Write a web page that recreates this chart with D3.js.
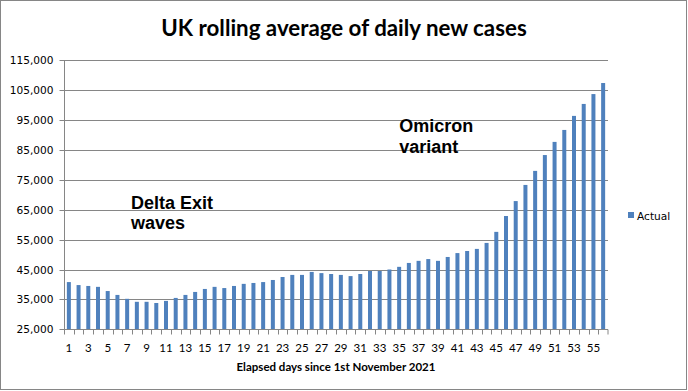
<!DOCTYPE html>
<html><head><meta charset="utf-8">
<script src="https://cdn.jsdelivr.net/npm/d3@7/dist/d3.min.js"></script>
<style>body{margin:0;background:#fff}svg{display:block}</style>
</head><body><svg id="c" width="688" height="391"></svg>
<script>
const days = d3.range(1, 57);
const actual = [40800,39800,39500,39200,37800,36500,35200,34200,34200,33800,34500,35500,36500,37500,38500,39200,38800,39500,
40200,40500,40800,41500,42500,43200,43200,44200,43800,43500,43200,42800,43500,44500,44500,45000,45900,47200,47900,48500,
47900,49200,50500,51200,51900,53900,57600,62900,67900,73300,78000,83300,87700,91700,96400,100400,103700,107400];
const yTicks = [25000,35000,45000,55000,65000,75000,85000,95000,105000,115000];
const xTickLabels = days.filter(d => d % 2 === 1);
const titleText = "UK rolling average of daily new cases";
const xTitle = "Elapsed days since 1st November 2021";
const seriesName = "Actual";
const notes = [{lines:["Delta Exit","waves"], day:7.9, value:65300},{lines:["Omicron","variant"], day:35.5, value:91000}];

const svg = d3.select("#c");
const m = {l:64, r:608, t:60.3, b:329.3};
svg.append("rect").attr("x",0.5).attr("y",0.5).attr("width",686).attr("height",389)
  .attr("fill","#fff").attr("stroke","#868686");

const xb = d3.scaleBand().domain(days).range([m.l, m.r]);
const y = d3.scaleLinear().domain([25000,115000]).range([m.b, m.t]);

// gridlines
svg.append("g").selectAll("line").data(yTicks.slice(1)).join("line")
  .attr("x1", m.l).attr("x2", m.r)
  .attr("y1", d => Math.round(y(d))+0.5).attr("y2", d => Math.round(y(d))+0.5)
  .attr("stroke","#868686");

// bars
svg.append("g").selectAll("rect").data(actual).join("rect")
  .attr("x", (d,i) => xb(days[i]) + xb.bandwidth()/2 - 2)
  .attr("width", 4)
  .attr("y", d => y(d)).attr("height", d => m.b - y(d))
  .attr("fill","#4F81BD");

// y axis
const yAxis = d3.axisLeft(y).tickValues(yTicks).tickSize(5).tickPadding(6)
  .tickFormat(d3.format(","));
const gy = svg.append("g").attr("transform",`translate(${m.l+0.5},0)`).call(yAxis);
gy.selectAll(".tick").attr("transform", d => `translate(0,${Math.round(y(d))+0.5})`);
gy.select(".domain").attr("stroke","#868686").attr("d",`M-0,${m.t}V${m.b+0.5}`);
gy.selectAll(".tick line").attr("stroke","#868686");
gy.selectAll(".tick text").attr("font-family","DejaVu Sans, Verdana, sans-serif").attr("font-size","10.6px").attr("fill","#000");

// x axis
const gx = svg.append("g").attr("transform",`translate(0,${Math.round(m.b)+0.5})`);
gx.append("line").attr("x1",m.l).attr("x2",m.r).attr("stroke","#868686");
gx.selectAll("line.tk").data(days.concat([57])).join("line").attr("class","tk")
  .attr("x1", d => d===57 ? m.r : Math.round(xb(d))+0.5).attr("x2", d => d===57 ? m.r : Math.round(xb(d))+0.5)
  .attr("y1",0).attr("y2",5).attr("stroke","#868686");
gx.selectAll("text").data(xTickLabels).join("text")
  .attr("x", d => xb(d) + xb.bandwidth()/2).attr("y", 22)
  .attr("text-anchor","middle").attr("font-family","Lato, sans-serif").attr("font-size","11.5px")
  .text(d => d);

// titles
svg.append("text").attr("x",344).attr("y",36).attr("text-anchor","middle")
  .attr("font-family","Lato, sans-serif").attr("font-weight","bold").attr("font-size","22.3px").text(titleText);
svg.append("text").attr("x",336).attr("y",371).attr("text-anchor","middle")
  .attr("font-family","Lato, sans-serif").attr("font-weight","bold").attr("font-size","11.5px").text(xTitle);

// annotations
notes.forEach(n => {
  const t = svg.append("text").attr("x", xb(Math.floor(n.day)) + (n.day%1)*xb.bandwidth())
    .attr("y", y(n.value)).attr("font-family","Liberation Sans, Arial, sans-serif")
    .attr("font-weight","bold").attr("font-size","18px");
  n.lines.forEach((l,i) => t.append("tspan").attr("x", t.attr("x")).attr("dy", i?20.5:0).text(l));
});

// legend
svg.append("rect").attr("x",628).attr("y",212).attr("width",6).attr("height",6).attr("fill","#4F81BD");
svg.append("text").attr("x",637).attr("y",219.5).attr("font-family","DejaVu Sans, Verdana, sans-serif")
  .attr("font-size","10.6px").text(seriesName);
</script></body></html>
